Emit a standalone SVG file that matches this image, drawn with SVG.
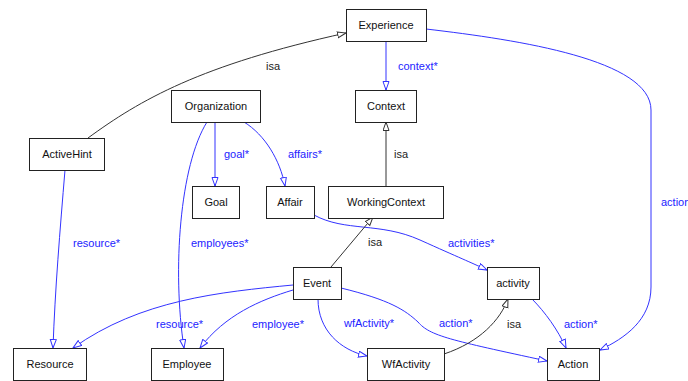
<svg xmlns="http://www.w3.org/2000/svg" width="688" height="381" viewBox="0 0 688 381">
<style>
.n rect{fill:#fff;stroke:#222;stroke-width:1}
.n text{font-family:"Liberation Sans",Arial,sans-serif;font-size:11px;fill:#111;text-anchor:middle}
.e{fill:none;stroke:#3333ff;stroke-width:1;marker-end:url(#ab)}
.i{fill:none;stroke:#333;stroke-width:1;marker-end:url(#ag)}
.l{font-family:"Liberation Sans",Arial,sans-serif;font-size:11px;fill:#2222ff}
.k{font-family:"Liberation Sans",Arial,sans-serif;font-size:11px;fill:#222}
</style>
<defs>
<marker id="ab" markerUnits="userSpaceOnUse" markerWidth="10" markerHeight="8" refX="9" refY="3.5" orient="auto"><path d="M0.5,0.5 L9,3.5 L0.5,6.5 z" fill="#fff" stroke="#3333ff"/></marker>
<marker id="ag" markerUnits="userSpaceOnUse" markerWidth="10" markerHeight="8" refX="9" refY="3.5" orient="auto"><path d="M0.5,0.5 L9,3.5 L0.5,6.5 z" fill="#fff" stroke="#333"/></marker>
</defs>
<rect width="688" height="381" fill="#fff"/>
<g id="connectors">
<path class="i" d="M88,138 C140,100 200,65 346,33"/>
<path class="e" d="M386,41 L386,90"/>
<path class="e" d="M426,29 C520,40 651,60 651,110 L651,287 C651,320 625,338 600,350"/>
<path class="i" d="M386,186 L386,122"/>
<path class="e" d="M215,122 L215,186"/>
<path class="e" d="M244,122 C265,135 280,160 285,186"/>
<path class="e" d="M207,122 C180,165 172,270 184,348"/>
<path class="e" d="M65,170 C60,230 55,290 53,348"/>
<path class="e" d="M314,215 C345,232 380,222 420,240 S470,262 487,270"/>
<path class="i" d="M331,267 L373,217"/>
<path class="e" d="M293,285 C220,292 140,300 73,348"/>
<path class="e" d="M293,290 C260,300 225,315 200,348"/>
<path class="e" d="M318,299 C318,330 340,350 367,356"/>
<path class="e" d="M341,288 C390,300 405,310 418,322 C430,336 450,340 547,361"/>
<path class="e" d="M532,299 C545,312 558,330 566,348"/>
<path class="i" d="M444,354 C480,342 500,320 508,299"/>
<text class="k" x="266" y="70">isa</text>
<text class="l" x="398" y="70">context*</text>
<text class="l" x="224" y="158">goal*</text>
<text class="l" x="288" y="158">affairs*</text>
<text class="k" x="394" y="158">isa</text>
<text class="l" x="661" y="206">action*</text>
<text class="l" x="73" y="247">resource*</text>
<text class="l" x="191" y="247">employees*</text>
<text class="k" x="368" y="246">isa</text>
<text class="l" x="448" y="247">activities*</text>
<text class="l" x="156" y="328">resource*</text>
<text class="l" x="252" y="328">employee*</text>
<text class="l" x="344" y="327">wfActivity*</text>
<text class="l" x="439" y="327">action*</text>
<text class="k" x="507" y="328">isa</text>
<text class="l" x="564" y="328">action*</text>
</g>
<g id="Experience" class="n"><rect x="346.5" y="9.5" width="80" height="32"/><text x="386" y="29">Experience</text></g>
<g id="Context" class="n"><rect x="355.5" y="90.5" width="61" height="32"/><text x="386" y="110">Context</text></g>
<g id="Organization" class="n"><rect x="171.5" y="90.5" width="89" height="32"/><text x="216" y="110">Organization</text></g>
<g id="ActiveHint" class="n"><rect x="29.5" y="138.5" width="75" height="32"/><text x="67" y="158">ActiveHint</text></g>
<g id="Goal" class="n"><rect x="192.5" y="186.5" width="47" height="32"/><text x="216" y="206">Goal</text></g>
<g id="Affair" class="n"><rect x="266.5" y="186.5" width="48" height="32"/><text x="290" y="206">Affair</text></g>
<g id="WorkingContext" class="n"><rect x="328.5" y="186.5" width="115" height="32"/><text x="386" y="206">WorkingContext</text></g>
<g id="Event" class="n"><rect x="293.5" y="267.5" width="48" height="32"/><text x="317" y="287">Event</text></g>
<g id="activity" class="n"><rect x="487.5" y="267.5" width="52" height="32"/><text x="513" y="287">activity</text></g>
<g id="Resource" class="n"><rect x="13.5" y="348.5" width="73" height="32"/><text x="50" y="368">Resource</text></g>
<g id="Employee" class="n"><rect x="151.5" y="348.5" width="72" height="32"/><text x="187" y="368">Employee</text></g>
<g id="WfActivity" class="n"><rect x="367.5" y="348.5" width="77" height="32"/><text x="406" y="368">WfActivity</text></g>
<g id="Action" class="n"><rect x="547.5" y="348.5" width="52" height="32"/><text x="573" y="368">Action</text></g>
</svg>
